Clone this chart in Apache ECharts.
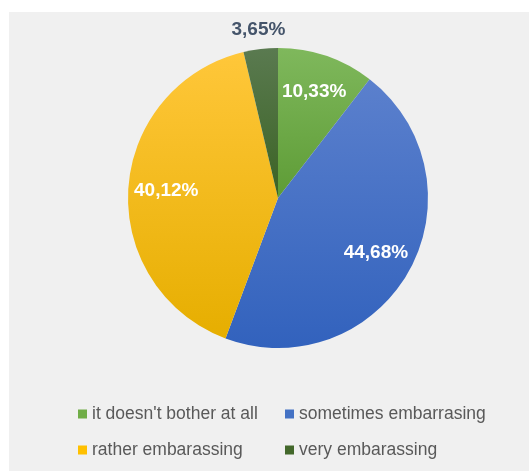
<!DOCTYPE html>
<html>
<head>
<meta charset="utf-8">
<script src="https://cdn.jsdelivr.net/npm/echarts@6/dist/echarts.min.js"></script>
<style>
html,body{margin:0;padding:0;background:#ffffff;}
#chart{width:529px;height:471px;}
</style>
</head>
<body>
<div id="chart"></div>
<script>
var categories = ["it doesn't bother at all", "sometimes embarrasing", "rather embarassing", "very embarassing"];
var values = [10.33, 44.68, 40.12, 3.65];
var topColors = ["#7fb85c", "#5b80cd", "#ffc73a", "#5a7a50"];
var bottomColors = ["#5e9c36", "#3262bd", "#e6ae00", "#3b6324"];
var solidColors = ["#70ad47", "#4472c4", "#ffc000", "#43682b"];

function fmt(v) { return v.toFixed(2).replace('.', ',') + '%'; }

var chart = echarts.init(document.getElementById('chart'));

var center = [278, 198];

var mainData = categories.map(function (c, i) {
  return {
    name: c,
    value: values[i],
    itemStyle: {
      color: new echarts.graphic.LinearGradient(0, 0, 0, 1, [
        { offset: 0, color: topColors[i] },
        { offset: 1, color: bottomColors[i] }
      ])
    }
  };
});

var innerLabelData = categories.map(function (c, i) {
  return {
    name: c,
    value: values[i],
    itemStyle: { color: 'rgba(0,0,0,0)' },
    label: { show: i !== 3 }
  };
});

var outerLabelData = categories.map(function (c, i) {
  return {
    name: c,
    value: values[i],
    itemStyle: { color: 'rgba(0,0,0,0)' },
    label: { show: i === 3 }
  };
});

var legendText = { color: '#595959', fontSize: 17.5, fontFamily: 'Liberation Sans, Arial, sans-serif', lineHeight: 20 };

chart.setOption({
  animation: false,
  backgroundColor: '#ffffff',
  graphic: [{
    type: 'rect',
    left: 9, top: 12,
    shape: { width: 520, height: 459 },
    style: { fill: '#f0f0f0' },
    z: -10, silent: true
  }],
  legend: [{
    orient: 'vertical',
    left: 78, top: 404,
    padding: 0,
    itemWidth: 9, itemHeight: 9,
    itemGap: 16,
    icon: 'rect',
    selectedMode: false,
    textStyle: legendText,
    data: [
      { name: categories[0], itemStyle: { color: solidColors[0] } },
      { name: categories[2], itemStyle: { color: solidColors[2] } }
    ]
  }, {
    orient: 'vertical',
    left: 285, top: 404,
    padding: 0,
    itemWidth: 9, itemHeight: 9,
    itemGap: 16,
    icon: 'rect',
    selectedMode: false,
    textStyle: legendText,
    data: [
      { name: categories[1], itemStyle: { color: solidColors[1] } },
      { name: categories[3], itemStyle: { color: solidColors[3] } }
    ]
  }],
  series: [{
    type: 'pie',
    center: center,
    radius: 150,
    startAngle: 90,
    clockwise: true,
    label: { show: false },
    labelLine: { show: false },
    itemStyle: { borderWidth: 0 },
    emphasis: { disabled: true },
    silent: true,
    data: mainData
  }, {
    type: 'pie',
    center: center,
    radius: [68, 150],
    startAngle: 90,
    clockwise: true,
    silent: true,
    emphasis: { disabled: true },
    labelLine: { show: false },
    label: {
      position: 'inside',
      color: '#ffffff',
      fontWeight: 'bold',
      fontSize: 19,
      fontFamily: 'Liberation Sans, Arial, sans-serif',
      formatter: function (p) { return fmt(p.value); }
    },
    data: innerLabelData
  }, {
    type: 'pie',
    center: center,
    radius: [150, 182],
    startAngle: 90,
    clockwise: true,
    silent: true,
    emphasis: { disabled: true },
    labelLine: { show: false },
    label: {
      position: 'inside',
      color: '#44546a',
      fontWeight: 'bold',
      fontSize: 19,
      fontFamily: 'Liberation Sans, Arial, sans-serif',
      formatter: function (p) { return fmt(p.value); }
    },
    data: outerLabelData
  }]
});
</script>
</body>
</html>
